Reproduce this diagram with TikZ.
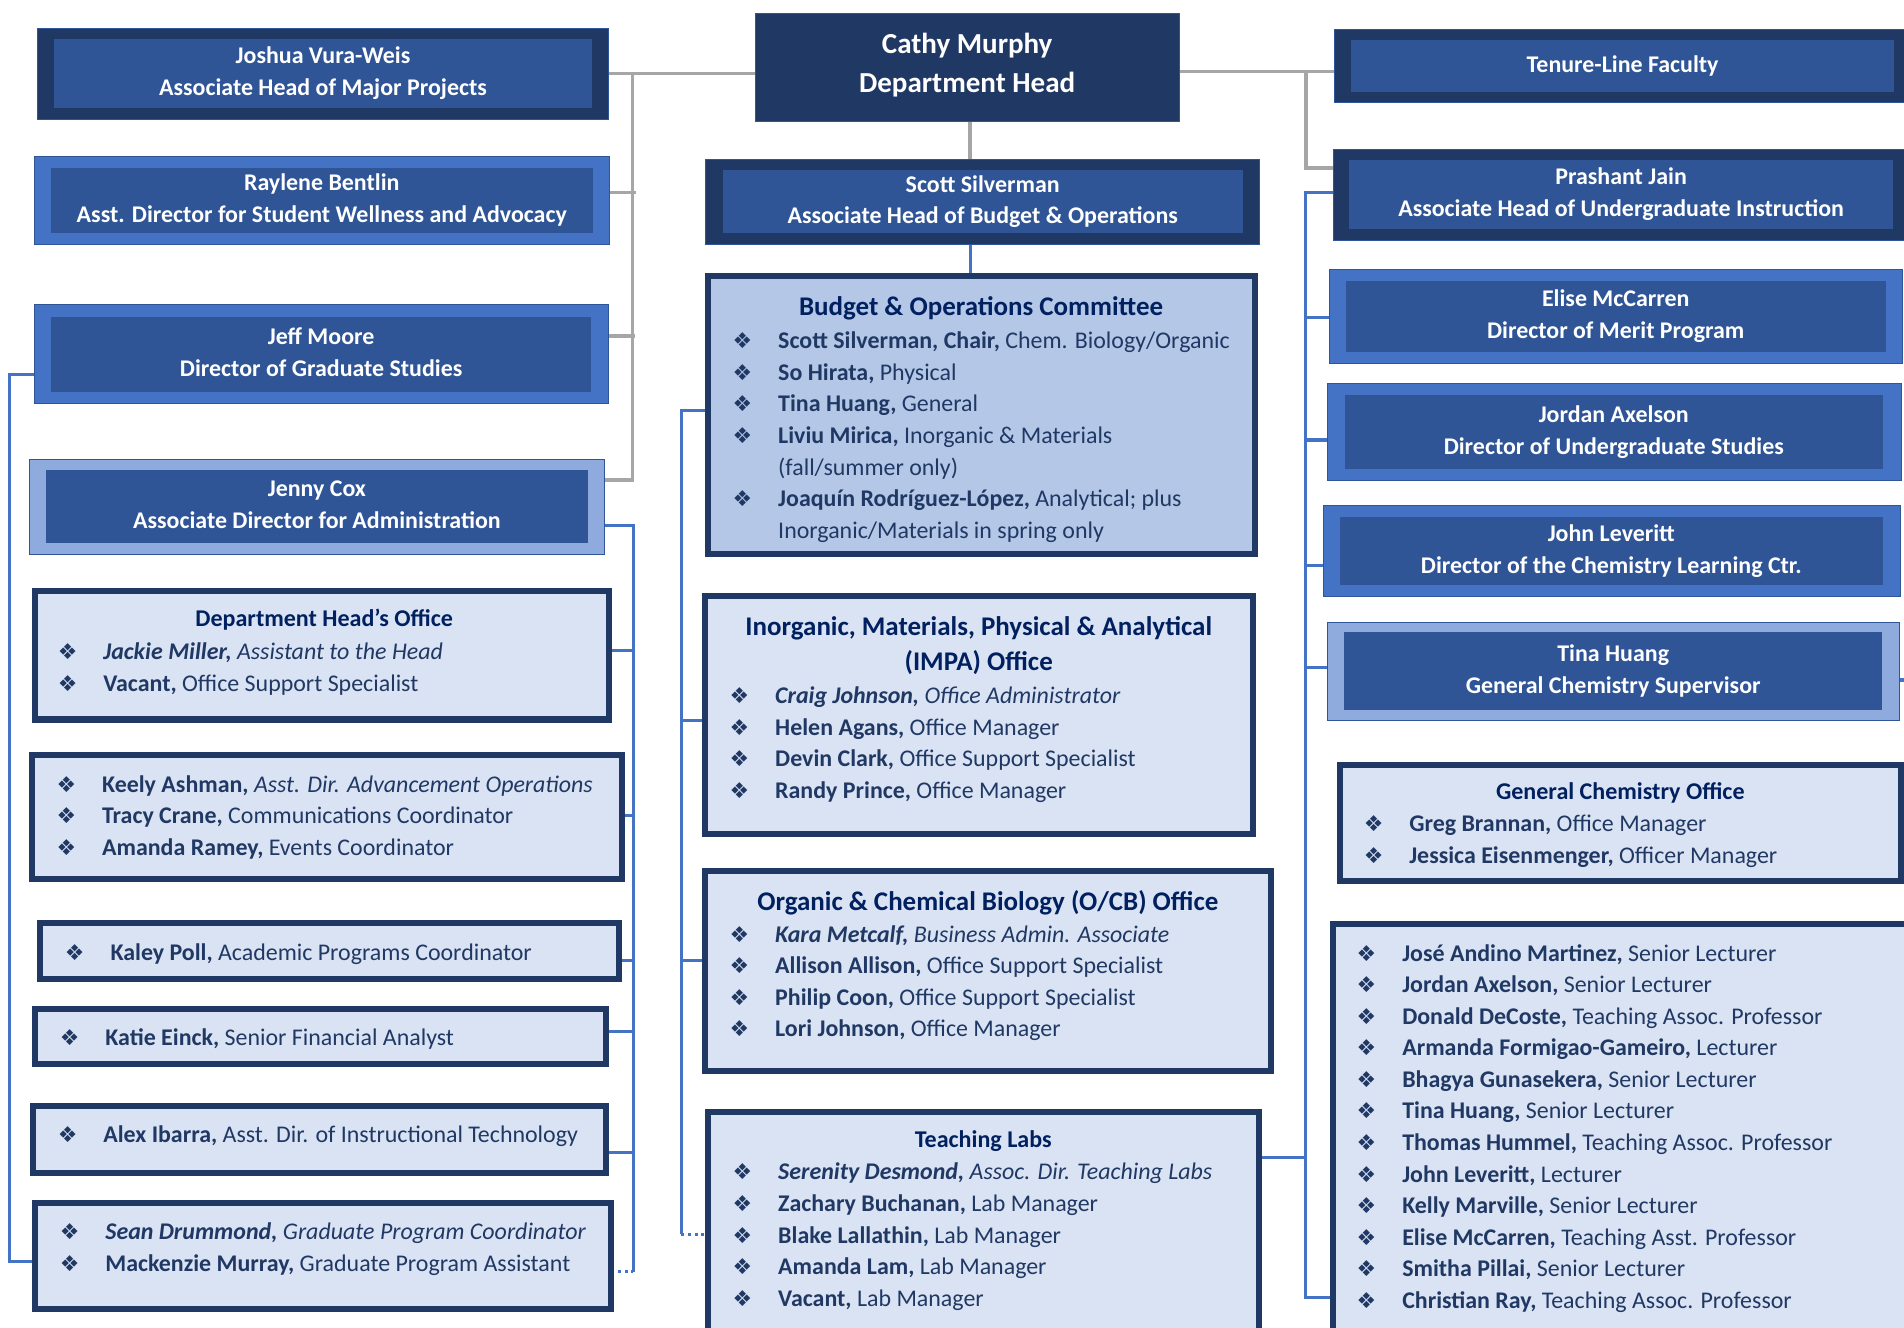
\documentclass[tikz,border=0pt]{standalone}
\usepackage{fontspec}
\setmainfont{Carlito}
\newfontfamily\djv{DejaVu Sans}
\usetikzlibrary{calc,backgrounds}
\definecolor{navyD}{HTML}{203864}
\definecolor{innerB}{HTML}{2F5597}
\definecolor{medB}{HTML}{4472C4}
\definecolor{lightB}{HTML}{8FAADC}
\definecolor{paleF}{HTML}{DAE3F3}
\definecolor{budF}{HTML}{B4C7E7}
\definecolor{ttlC}{HTML}{002060}
\definecolor{txtC}{HTML}{203864}
\definecolor{grayL}{HTML}{A6A6A6}
\definecolor{blueL}{HTML}{4472C4}
\newcommand\hfnt{\fontsize{19.7}{26}\selectfont\bfseries}
\newcommand\lfnt{\fontsize{19.7}{26}\selectfont}
\newcommand\tfntA{\fontsize{22.2}{28.8}\selectfont\bfseries}
\newcommand\tfntB{\fontsize{19.8}{26}\selectfont\bfseries}
\newcommand\cfnt{\fontsize{23.9}{32}\selectfont\bfseries}
\newcommand\sst{\rule[-7.8pt]{0pt}{26pt}}
\newcommand\cst{\rule[-9.6pt]{0pt}{32pt}}
\newcommand\bul{{\djv\fontsize{18}{18}\selectfont\char"2756}}
\newcommand\itm[1]{\sst\makebox[37.5pt][l]{\bul}#1}
\newcommand\cnt[1]{\sst\hspace*{37.5pt}#1}
\begin{document}
\begin{tikzpicture}[x=1pt,y=-1pt,
  hout/.style={rectangle, inner sep=0pt, outer sep=0pt, fill=#1, draw=innerB, line width=0.6pt},
  hout/.default=navyD,
  hin/.style={rectangle, inner sep=0pt, outer sep=0pt, fill=innerB, text=white, font=\hfnt, align=center},
  lbx/.style={rectangle, inner sep=0pt, outer sep=0pt, draw=navyD, line width=5pt, fill=#1},
  lbx/.default=paleF,
  ttlA/.style={inner sep=0pt, text=ttlC, anchor=base, font=\tfntA, yshift=-1.5pt},
  ttlB/.style={inner sep=0pt, text=ttlC, anchor=base, font=\tfntB, yshift=-1.5pt},
  lst/.style={inner sep=0pt, text=txtC, font=\lfnt, align=left, anchor=north west, yshift=-1.5pt},
  gconn/.style={draw=grayL, line width=3pt},
  bconn/.style={draw=blueL, line width=2.5pt},
  dconn/.style={draw=blueL, line width=2.5pt, dash pattern=on 2.5pt off 3pt}]
\useasboundingbox (0,0) rectangle (1568,1093);

% ---------- top / header boxes ----------
\node[hout, minimum width=349pt, minimum height=89pt] (cathy) at (796.5,55.5) {};
\node[inner sep=0pt, text=white, font=\cfnt, align=center] (cathyT) at (796.5,53.6) {\cst Cathy Murphy\\\cst Department Head};

\node[hout, minimum width=470pt, minimum height=75pt] (joshua) at (266,60.5) {};
\node[hin, minimum width=443pt, minimum height=57pt] (joshuaI) at (266,60.5) {\sst Joshua Vura-Weis\\\sst Associate Head of Major Projects};

\node[hout=medB, minimum width=474pt, minimum height=72pt] (raylene) at (265,165) {};
\node[hin, minimum width=446pt, minimum height=53pt] (rayleneI) at (265,165) {\sst Raylene Bentlin\\\sst Asst. Director for Student Wellness and Advocacy};

\node[hout=medB, minimum width=473pt, minimum height=81pt] (jeff) at (264.5,291.5) {};
\node[hin, minimum width=445pt, minimum height=62pt] (jeffI) at (264.5,291.8) {\sst Jeff Moore\\\sst Director of Graduate Studies};

\node[hout=lightB, minimum width=473.5pt, minimum height=78.5pt] (jenny) at (260.75,417.25) {};
\node[hin, minimum width=446pt, minimum height=60pt] (jennyI) at (261,417) {\sst Jenny Cox\\\sst Associate Director for Administration};

\node[hout, minimum width=456pt, minimum height=70pt] (scott) at (809,166) {};
\node[hin, minimum width=428.6pt, minimum height=52pt] (scottI) at (809.3,166) {\sst Scott Silverman\\\sst Associate Head of Budget \& Operations};

\node[hout, minimum width=481pt, minimum height=60pt] (tenure) at (1339.5,54) {};
\node[hin, minimum width=447.5pt, minimum height=42.5pt] (tenureI) at (1336.25,54.25) {\sst Tenure-Line Faculty};

\node[hout, minimum width=482pt, minimum height=75pt] (prashant) at (1339,160.2) {};
\node[hin, minimum width=448pt, minimum height=56.5pt] (prashantI) at (1335,160) {\sst Prashant Jain\\\sst Associate Head of Undergraduate Instruction};

\node[hout=medB, minimum width=472.6pt, minimum height=77.7pt] (elise) at (1330.7,260.35) {};
\node[hin, minimum width=444.4pt, minimum height=58.2pt] (eliseI) at (1330.6,260.5) {\sst Elise McCarren\\\sst Director of Merit Program};

\node[hout=medB, minimum width=472pt, minimum height=80.1pt] (jordan) at (1329.4,355.75) {};
\node[hin, minimum width=442.6pt, minimum height=60.9pt] (jordanI) at (1329,355.75) {\sst Jordan Axelson\\\sst Director of Undergraduate Studies};

\node[hout=medB, minimum width=475.2pt, minimum height=75pt] (john) at (1327.2,453.9) {};
\node[hin, minimum width=446.7pt, minimum height=55.8pt] (johnI) at (1327,453.9) {\sst John Leveritt\\\sst Director of the Chemistry Learning Ctr.};

\node[hout=lightB, minimum width=470.4pt, minimum height=81pt] (tina) at (1328.6,553) {};
\node[hin, minimum width=443.5pt, minimum height=64pt] (tinaI) at (1328.5,552.7) {\sst Tina Huang\\\sst General Chemistry Supervisor};

% ---------- list boxes ----------
\node[lbx=budF, minimum width=450.5pt, minimum height=228.4pt] (budget) at (808.25,341.7) {};
\node[ttlA] (budgetT) at (808,258) {Budget \& Operations Committee};
\node[lst] (budgetL) at (603.2,267.3) {\itm{\textbf{Scott Silverman, Chair,} Chem. Biology/Organic}\\
\itm{\textbf{So Hirata,} Physical}\\
\itm{\textbf{Tina Huang,} General}\\
\itm{\textbf{Liviu Mirica,} Inorganic \& Materials}\\
\cnt{(fall/summer only)}\\
\itm{\textbf{Joaquín Rodríguez-López,} Analytical; plus}\\
\cnt{Inorganic/Materials in spring only}};

\node[lbx, minimum width=473.3pt, minimum height=106pt] (dho) at (265.15,539.5) {};
\node[ttlB] (dhoT) at (267,514.5) {Department Head’s Office};
\node[lst] (dhoL) at (47.4,523.6) {\itm{\textbf{\textit{Jackie Miller,}} \textit{Assistant to the Head}}\\
\itm{\textbf{Vacant,} Office Support Specialist}};

\node[lbx, minimum width=486.4pt, minimum height=102.6pt] (keely) at (269.3,672.8) {};
\node[lst] (keelyL) at (46.4,632.4) {\itm{\textbf{Keely Ashman,} \textit{Asst. Dir. Advancement Operations}}\\
\itm{\textbf{Tracy Crane,} Communications Coordinator}\\
\itm{\textbf{Amanda Ramey,} Events Coordinator}};

\node[lbx, minimum width=476.8pt, minimum height=45.8pt] (kaley) at (271.4,783) {};
\node[lst] (kaleyL) at (53.3,771) {\itm{\textbf{Kaley Poll,} Academic Programs Coordinator}};

\node[lbx, minimum width=470.2pt, minimum height=45.5pt] (katie) at (263.9,853.75) {};
\node[lst] (katieL) at (49.1,841) {\itm{\textbf{Katie Einck,} Senior Financial Analyst}};

\node[lbx, minimum width=471.6pt, minimum height=54.6pt] (alex) at (263.2,938.4) {};
\node[lst] (alexL) at (47.4,920.6) {\itm{\textbf{Alex Ibarra,} Asst. Dir. of Instructional Technology}};

\node[lbx, minimum width=474.3pt, minimum height=87pt] (sean) at (266.35,1034.2) {};
\node[lst] (seanL) at (49.1,1001.2) {\itm{\textbf{\textit{Sean Drummond,}} \textit{Graduate Program Coordinator}}\\
\itm{\textbf{Mackenzie Murray,} Graduate Program Assistant}};

\node[lbx, minimum width=451.3pt, minimum height=195.9pt] (impa) at (806.15,589.05) {};
\node[ttlA] (impaT1) at (806,521.6) {Inorganic, Materials, Physical \& Analytical};
\node[ttlA] (impaT2) at (806,550.4) {(IMPA) Office};
\node[lst] (impaL) at (600.7,559.6) {\itm{\textbf{\textit{Craig Johnson,}} \textit{Office Administrator}}\\
\itm{\textbf{Helen Agans,} Office Manager}\\
\itm{\textbf{Devin Clark,} Office Support Specialist}\\
\itm{\textbf{Randy Prince,} Office Manager}};

\node[lbx, minimum width=466.4pt, minimum height=164.5pt] (ocb) at (813.7,799.75) {};
\node[ttlA] (ocbT) at (813.5,748) {Organic \& Chemical Biology (O/CB) Office};
\node[lst] (ocbL) at (600.7,755.9) {\itm{\textbf{\textit{Kara Metcalf,}} \textit{Business Admin. Associate}}\\
\itm{\textbf{Allison Allison,} Office Support Specialist}\\
\itm{\textbf{Philip Coon,} Office Support Specialist}\\
\itm{\textbf{Lori Johnson,} Office Manager}};

\node[lbx, minimum width=454.1pt, minimum height=191.7pt] (tlabs) at (809.75,1011.65) {};
\node[ttlB] (tlabsT) at (809.75,943.5) {Teaching Labs};
\node[lst] (tlabsL) at (603.2,951.8) {\itm{\textbf{\textit{Serenity Desmond,}} \textit{Assoc. Dir. Teaching Labs}}\\
\itm{\textbf{Zachary Buchanan,} Lab Manager}\\
\itm{\textbf{Blake Lallathin,} Lab Manager}\\
\itm{\textbf{Amanda Lam,} Lab Manager}\\
\itm{\textbf{Vacant,} Lab Manager}};

\node[lbx, minimum width=462.3pt, minimum height=95.6pt] (genchem) at (1334.35,677.5) {};
\node[ttlB] (genchemT) at (1334.4,656.5) {General Chemistry Office};
\node[lst] (genchemL) at (1122.9,665.2) {\itm{\textbf{Greg Brannan,} Office Manager}\\
\itm{\textbf{Jessica Eisenmenger,} Officer Manager}};

\node[lbx, minimum width=479.7pt, minimum height=346.5pt] (lect) at (1337.65,934.25) {};
\node[lst] (lectL) at (1117.1,771.6) {\itm{\textbf{José Andino Martinez,} Senior Lecturer}\\
\itm{\textbf{Jordan Axelson,} Senior Lecturer}\\
\itm{\textbf{Donald DeCoste,} Teaching Assoc. Professor}\\
\itm{\textbf{Armanda Formigao-Gameiro,} Lecturer}\\
\itm{\textbf{Bhagya Gunasekera,} Senior Lecturer}\\
\itm{\textbf{Tina Huang,} Senior Lecturer}\\
\itm{\textbf{Thomas Hummel,} Teaching Assoc. Professor}\\
\itm{\textbf{John Leveritt,} Lecturer}\\
\itm{\textbf{Kelly Marville,} Senior Lecturer}\\
\itm{\textbf{Elise McCarren,} Teaching Asst. Professor}\\
\itm{\textbf{Smitha Pillai,} Senior Lecturer}\\
\itm{\textbf{Christian Ray,} Teaching Assoc. Professor}};

% ---------- connector points ----------
\coordinate (gl) at (521,0);
\coordinate (gr) at (1075.5,0);
\coordinate (bl) at (521.5,0);
\coordinate (bc) at (561,0);
\coordinate (bfl) at (8,0);
\coordinate (br) at (1075.4,0);
\coordinate (raylG) at ($(raylene.east)+(0,-6.6)$);
\coordinate (jeffG) at ($(jeff.east)+(0,-14.8)$);
\coordinate (jennyG) at ($(jenny.east)+(0,-22)$);
\coordinate (jennyB) at ($(jenny.east)+(0,15.2)$);
\coordinate (tenureP) at ($(tenure.west)+(0,5)$);
\coordinate (prashG) at ($(prashant.west)+(0,-21.6)$);
\coordinate (prashB) at ($(prashant.west)+(0,-1.7)$);
\coordinate (cs) at ($(cathy.south)+(2.5,0)$);
\coordinate (ss) at ($(scott.south)+(-10,0)$);
\coordinate (budgetB) at ($(budget.west)+(0,-4)$);
\coordinate (impaB) at ($(impa.west)+(0,4)$);
\coordinate (ocbB) at ($(ocb.west)+(0,-9)$);
\coordinate (tlabsB) at ($(tlabs.west)+(0,4.6)$);
\coordinate (tlabsE) at ($(tlabs.east)+(0,-58.65)$);
\coordinate (dhoB) at ($(dho.east)+(0,-4.2)$);
\coordinate (keelyB) at ($(keely.east)+(0,-1)$);
\coordinate (kaleyB) at ($(kaley.east)+(0,7.6)$);
\coordinate (katieB) at ($(katie.east)+(0,-4.2)$);
\coordinate (alexB) at ($(alex.east)+(0,10.6)$);
\coordinate (seanB) at ($(sean.east)+(0,13)$);
\coordinate (jeffB) at ($(jeff.west)+(0,16.8)$);
\coordinate (seanW) at ($(sean.west)+(0,4.8)$);
\coordinate (eliseB) at ($(elise.west)+(0,1.3)$);
\coordinate (jordanB) at ($(jordan.west)+(0,6.6)$);
\coordinate (johnB) at ($(john.west)+(0,11.4)$);
\coordinate (tinaB) at ($(tina.west)+(0,-3.4)$);
\coordinate (tinaR) at ($(tina.east)+(0,7)$);
\coordinate (lectB) at ($(lect.west)+(0,134.5)$);

\begin{scope}[on background layer]
\fill[white] (0,0) rectangle (1568,1093);
% gray connectors
\draw[gconn] (cathy.west |- joshua.east) -- (joshua.east);
\draw[gconn] (joshua.east -| gl) |- (jennyG);
\draw[gconn] (raylG) -- ($(raylG -| gl)+(3,0)$);
\draw[gconn] (jeffG) -- ($(jeffG -| gl)+(2,0)$);
\draw[gconn] (cathy.east |- tenureP) -- (tenureP);
\draw[gconn] (tenureP -| gr) |- (prashG);
\draw[gconn] (cs) -- (cs |- scott.north);
% blue connectors
\draw[bconn] (ss) -- (ss |- budget.north);
\draw[bconn] (budgetB) -- (budgetB -| bc) -- (tlabsB -| bc);
\draw[dconn] (tlabsB -| bc) -- (tlabsB);
\draw[bconn] (impaB -| bc) -- (impaB);
\draw[bconn] (ocbB -| bc) -- (ocbB);
\draw[bconn] (jennyB) -- (jennyB -| bl) -- (seanB -| bl);
\draw[dconn] (seanB) -- (seanB -| bl);
\draw[bconn] (dhoB) -- (dhoB -| bl);
\draw[bconn] (keelyB) -- (keelyB -| bl);
\draw[bconn] (kaleyB) -- (kaleyB -| bl);
\draw[bconn] (katieB) -- (katieB -| bl);
\draw[bconn] (alexB) -- (alexB -| bl);
\draw[bconn] (jeffB) -| (bfl |- seanW) -- (seanW);
\draw[bconn] (prashB) -| (br |- lectB) -- (lectB);
\draw[bconn] (eliseB) -- (eliseB -| br);
\draw[bconn] (jordanB) -- (jordanB -| br);
\draw[bconn] (johnB) -- (johnB -| br);
\draw[bconn] (tinaB) -- (tinaB -| br);
\draw[bconn] (tlabsE) -- (tlabsE -| br);
\draw[bconn] (tinaR) -- ++(20,0);
\end{scope}
\end{tikzpicture}
\end{document}
